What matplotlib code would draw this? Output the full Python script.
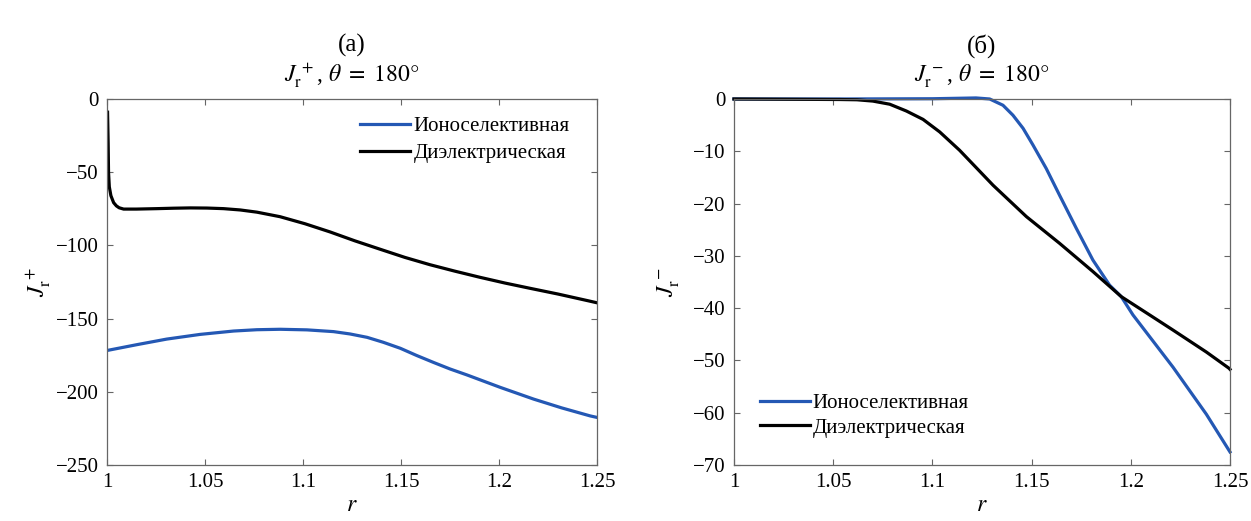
import matplotlib
matplotlib.use("Agg")
import matplotlib.pyplot as plt

# ---------------- данные ----------------
# (а) J_r^+
r_ion_a = [1.0, 1.0153, 1.0305, 1.0475, 1.0646, 1.0765, 1.0884, 1.1020, 1.1156,
           1.1240, 1.1327, 1.1410, 1.1497, 1.1580, 1.1667, 1.1750, 1.1837,
           1.2007, 1.2177, 1.2320, 1.2466, 1.25]
J_ion_a = [-171.8, -167.8, -164.0, -160.8, -158.5, -157.6, -157.3, -157.7, -158.9,
           -160.5, -162.8, -166.2, -170.3, -175.2, -180.0, -184.4, -188.5,
           -197.0, -205.0, -211.0, -216.5, -217.5]

r_die_a = [1.0003, 1.0006, 1.0008, 1.0012, 1.0020, 1.0034, 1.0048, 1.0062, 1.0085,
           1.0150, 1.0255, 1.0340, 1.0425, 1.0510, 1.0595, 1.0680, 1.0765, 1.0883,
           1.1010, 1.1138, 1.1265, 1.1393, 1.1520, 1.1648, 1.1775, 1.1903, 1.2030,
           1.2158, 1.2300, 1.2454, 1.25]
J_die_a = [-9.0, -30.0, -50.0, -60.0, -66.0, -70.8, -73.0, -74.3, -75.2,
           -75.2, -74.9, -74.6, -74.4, -74.5, -74.9, -75.8, -77.3, -80.4,
           -85.2, -90.8, -96.9, -102.6, -108.2, -113.2, -117.6, -121.8, -125.7,
           -129.3, -133.2, -137.8, -139.2]

# (б) J_r^-
r_ion_b = [1.0, 1.05, 1.10, 1.115, 1.122, 1.1289, 1.1356, 1.1406, 1.1457, 1.1507,
           1.1574, 1.1641, 1.1725, 1.1809, 1.1893, 1.1952, 1.2011, 1.2213, 1.2381,
           1.2495, 1.25]
J_ion_b = [0.0, 0.0, 0.05, 0.15, 0.2, 0.0, -1.2, -3.1, -5.6, -8.8,
           -13.3, -18.4, -24.7, -30.8, -35.6, -37.8, -41.3, -51.3, -60.3,
           -67.2, -67.5]

r_die_b = [1.0, 1.0532, 1.0620, 1.0700, 1.0785, 1.0869, 1.0953, 1.1037, 1.1137,
           1.1306, 1.1474, 1.1641, 1.1809, 1.1952, 1.2095, 1.2213, 1.2381, 1.2495, 1.25]
J_die_b = [0.0, -0.1, -0.15, -0.4, -1.0, -2.3, -3.9, -6.3, -9.8,
           -16.5, -22.5, -27.6, -33.0, -37.8, -41.3, -44.2, -48.4, -51.5, -51.7]

xticks = [1, 1.05, 1.1, 1.15, 1.2, 1.25]
xticklabels = ['1', '1.05', '1.1', '1.15', '1.2', '1.25']
yticks_a = [0, -50, -100, -150, -200, -250]
yticks_b = [0, -10, -20, -30, -40, -50, -60, -70]
names = ['Ионоселективная', 'Диэлектрическая']

# ---------------- оформление ----------------
plt.rcParams['font.family'] = ['Liberation Serif', 'DejaVu Serif']
plt.rcParams['mathtext.fontset'] = 'stix'
plt.rcParams['axes.unicode_minus'] = True

blue = '#2458b4'
fs = 15

fig = plt.figure(figsize=(12.51, 5.21), dpi=100)
ax1 = fig.add_axes([0.0855, 0.1075, 0.3917, 0.7025])
ax2 = fig.add_axes([0.5867, 0.1075, 0.3965, 0.7025])


def style(ax):
    ax.set_xlim(1, 1.25)
    ax.set_xticks(xticks)
    ax.set_xticklabels(xticklabels)
    ax.tick_params(direction='in', top=True, right=True, length=4,
                   width=0.8, color='#666666', labelsize=fs, pad=6)
    for s in ax.spines.values():
        s.set_color('#666666')
        s.set_linewidth(0.9)
    ax.set_xlabel(r'$r$', fontsize=fs + 2, labelpad=2)


# (а)
ax1.plot(r_ion_a, J_ion_a, color=blue, lw=2.3, label=names[0])
ax1.plot(r_die_a, J_die_a, color='black', lw=2.3, label=names[1])
style(ax1)
ax1.set_ylim(-250, 0)
ax1.set_yticks(yticks_a)
ax1.set_ylabel(r'$J^{\,+}_{\mathrm{r}}$', fontsize=fs + 2, labelpad=2)
ax1.set_title(r'$J^{\,+}_{\mathrm{r}}$, $\theta\ =\ 180°$', fontsize=fs + 2, pad=13)
ax1.text(0.5, 1.145, '(a)', transform=ax1.transAxes, ha='center', va='center',
         fontsize=fs + 3)
ax1.legend(loc='upper left', bbox_to_anchor=(0.50, 0.975), frameon=False,
           fontsize=fs, handlelength=2.4, handletextpad=0.15,
           labelspacing=0.35, borderaxespad=0)

# (б)
ax2.plot(r_ion_b, J_ion_b, color=blue, lw=2.3, label=names[0], clip_on=False)
ax2.plot(r_die_b, J_die_b, color='black', lw=2.3, label=names[1], clip_on=False)
style(ax2)
ax2.set_ylim(-70, 0)
ax2.set_yticks(yticks_b)
ax2.set_ylabel(r'$J^{\,-}_{\mathrm{r}}$', fontsize=fs + 2, labelpad=8)
ax2.set_title(r'$J^{\,-}_{\mathrm{r}}$, $\theta\ =\ 180°$', fontsize=fs + 2, pad=13)
ax2.text(0.5, 1.145, '(б)', transform=ax2.transAxes, ha='center', va='center',
         fontsize=fs + 3)
ax2.legend(loc='lower left', bbox_to_anchor=(0.035, 0.052), frameon=False,
           fontsize=fs, handlelength=2.4, handletextpad=0.15,
           labelspacing=0.25, borderaxespad=0)

fig.savefig('out.png', dpi=100)
